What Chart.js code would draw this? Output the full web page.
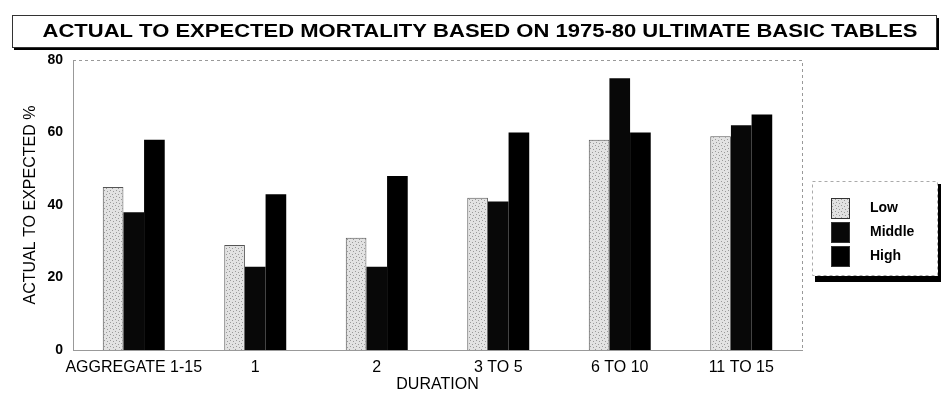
<!DOCTYPE html>
<html>
<head>
<meta charset="utf-8">
<script src="https://cdn.jsdelivr.net/npm/chart.js@4/dist/chart.umd.min.js"></script>
<style>
  body { margin: 0; background: #fff; }
  #wrap { width: 943px; height: 412px; position: relative; }
</style>
</head>
<body>
<div id="wrap"><canvas id="myChart" width="943" height="412"></canvas></div>
<script>
'use strict';

let chartTitle = 'ACTUAL TO EXPECTED MORTALITY BASED ON 1975-80 ULTIMATE BASIC TABLES';
let durations = ['AGGREGATE 1-15', '1', '2', '3 TO 5', '6 TO 10', '11 TO 15'];
let lowValues = [45, 29, 31, 42, 58, 59];
let middleValues = [38, 23, 23, 41, 75, 62];
let highValues = [58, 43, 48, 60, 60, 65];
let yTicks = [0, 20, 40, 60, 80];

let fontFamily = '"Liberation Sans", Arial, sans-serif';

// light stippled fill for the Low bars
function stipple() {
  let c = document.createElement('canvas');
  c.width = 6;
  c.height = 6;
  let g = c.getContext('2d');
  g.fillStyle = '#e2e2e2';
  g.fillRect(0, 0, 6, 6);
  g.fillStyle = '#9a9a9a';
  g.fillRect(1, 1, 1, 1);
  g.fillRect(4, 2, 1, 1);
  g.fillRect(2, 4, 1, 1);
  g.fillRect(5, 5, 1, 1);
  return g.createPattern(c, 'repeat');
}

// title box with drop shadow
let titleBox = {
  id: 'titleBox',
  afterDraw(chart) {
    let ctx = chart.ctx;
    ctx.save();
    ctx.fillStyle = '#000';
    ctx.fillRect(14, 18, 925, 32);
    ctx.fillStyle = '#fff';
    ctx.fillRect(12, 15, 924, 32);
    ctx.strokeStyle = '#333';
    ctx.lineWidth = 1;
    ctx.strokeRect(12.5, 15.5, 924, 32);
    ctx.fillStyle = '#000';
    ctx.font = 'bold 18px ' + fontFamily;
    ctx.textAlign = 'center';
    ctx.textBaseline = 'middle';
    let w = ctx.measureText(chartTitle).width;
    ctx.translate(480, 32);
    ctx.scale(875 / w, 1);
    ctx.fillText(chartTitle, 0, 0);
    ctx.restore();
  }
};

// dotted frame on top and right of the plot
let plotFrame = {
  id: 'plotFrame',
  afterDraw(chart) {
    let a = chart.chartArea;
    let ctx = chart.ctx;
    ctx.save();
    ctx.strokeStyle = '#999';
    ctx.setLineDash([3, 3]);
    ctx.lineWidth = 1;
    ctx.beginPath();
    ctx.moveTo(a.left, a.top + 0.5);
    ctx.lineTo(a.right + 0.5, a.top + 0.5);
    ctx.lineTo(a.right + 0.5, a.bottom);
    ctx.stroke();
    ctx.restore();
  }
};

// legend box on the right
let sideLegend = {
  id: 'sideLegend',
  afterDraw(chart) {
    let ctx = chart.ctx;
    ctx.save();
    ctx.fillStyle = '#000';
    ctx.fillRect(815, 184, 126, 98);
    ctx.fillStyle = '#fff';
    ctx.fillRect(812, 181, 126, 95);
    ctx.strokeStyle = '#aaa';
    ctx.setLineDash([3, 3]);
    ctx.strokeRect(812.5, 181.5, 125, 94);
    ctx.setLineDash([]);
    ctx.font = 'bold 14px ' + fontFamily;
    ctx.textBaseline = 'middle';
    chart.data.datasets.forEach(function(ds, i) {
      let y = 198 + i * 24;
      ctx.fillStyle = ds.backgroundColor;
      ctx.fillRect(831, y, 19, 21);
      ctx.strokeStyle = '#333';
      ctx.strokeRect(831.5, y + 0.5, 18, 20);
      ctx.fillStyle = '#000';
      ctx.fillText(ds.label, 870, y + 10);
    });
    ctx.restore();
  }
};

const data = {
  labels: durations,
  datasets: [{
    label: 'Low',
    data: lowValues,
    backgroundColor: stipple(),
    borderColor: '#555',
    borderWidth: 1
  }, {
    label: 'Middle',
    data: middleValues,
    backgroundColor: '#080808',
    borderWidth: 0
  }, {
    label: 'High',
    data: highValues,
    backgroundColor: '#000000',
    borderWidth: 0
  }]
};

const config = {
  type: 'bar',
  data: data,
  options: {
    responsive: false,
    animation: false,
    devicePixelRatio: 1,
    layout: {
      padding: { top: 60, right: 141, bottom: 0, left: 0 }
    },
    datasets: {
      bar: {
        categoryPercentage: 0.51,
        barPercentage: 1.0
      }
    },
    plugins: {
      legend: { display: false },
      title: { display: false },
      tooltip: { enabled: false }
    },
    scales: {
      x: {
        afterFit(axis) { axis.height = 62; },
        grid: { display: false, drawTicks: false },
        border: { display: true, color: '#999', dash: [3, 3] },
        ticks: {
          color: '#000',
          font: { family: fontFamily, size: 16 },
          padding: 8,
          maxRotation: 0,
          autoSkip: false
        },
        title: {
          display: true,
          text: 'DURATION',
          color: '#000',
          font: { family: fontFamily, size: 16 },
          padding: { top: 0, bottom: 18 }
        }
      },
      y: {
        min: 0,
        max: 80,
        afterFit(axis) { axis.width = 73; },
        afterBuildTicks(axis) {
          axis.ticks = yTicks.map(function(v) { return { value: v }; });
        },
        grid: { display: false, drawTicks: false },
        border: { display: true, color: '#999', dash: [3, 3] },
        ticks: {
          color: '#000',
          font: { family: fontFamily, size: 14, weight: 'bold' },
          padding: 10
        },
        title: {
          display: true,
          text: 'ACTUAL TO EXPECTED %',
          color: '#000',
          font: { family: fontFamily, size: 16 },
          padding: { top: 21, bottom: 0 }
        }
      }
    }
  },
  plugins: [titleBox, plotFrame, sideLegend]
};

const myChart = new Chart(document.getElementById('myChart'), config);
</script>
</body>
</html>
